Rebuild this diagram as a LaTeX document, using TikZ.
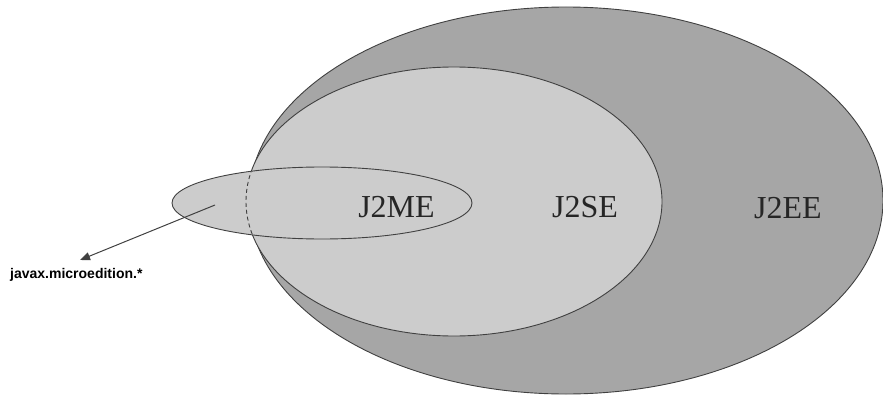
\documentclass[tikz,border=0pt]{standalone}
\usepackage{fontspec}
\setmainfont{Liberation Serif}
\newfontfamily\labelfont{Liberation Sans}
\usetikzlibrary{shapes.geometric,arrows.meta}
\definecolor{outer}{RGB}{166,166,166}
\definecolor{inner}{RGB}{204,204,204}
\definecolor{edge}{RGB}{64,64,64}
\tikzset{
  set/.style={ellipse,draw=edge,line width=0.9pt,inner sep=0pt},
  setname/.style={font=\fontsize{32}{36}\selectfont,text=black!85,inner sep=0pt,anchor=center},
  pkg/.style={font=\labelfont\bfseries\fontsize{14}{16}\selectfont,inner sep=0pt,anchor=base west},
  pointer/.style={draw=edge,line width=1pt,-{Triangle[length=10pt,width=8pt]}}
}
\begin{document}
\begin{tikzpicture}[x=1pt,y=-1pt]
\useasboundingbox (0,0) rectangle (883,396);
\node[set,fill=outer,minimum width=634,minimum height=387] (ee) at (566,200.5) {};
\node[set,fill=inner,minimum width=416,minimum height=269] (se) at (454,201.5) {};
\node[set,fill=inner,minimum width=300,minimum height=72] (me) at (322,203) {};
\begin{scope}
  \clip (322,203) ellipse [x radius=149.5, y radius=35.5];
  \draw[edge,line width=0.9pt,dash pattern=on 4pt off 3pt] (454,201.5) ellipse [x radius=208, y radius=134.5];
\end{scope}
\node[setname] (tme) at (396.5,207) {J2ME};
\node[setname] (tse) at (585,207) {J2SE};
\node[setname] (tee) at (788,208) {J2EE};
\coordinate (src) at (215,205);
\node[pkg] (lbl) at (10,278) {javax.microedition.*};
\coordinate (tip) at (80,260);
\draw[pointer] (src) -- (tip);
\end{tikzpicture}
\end{document}
